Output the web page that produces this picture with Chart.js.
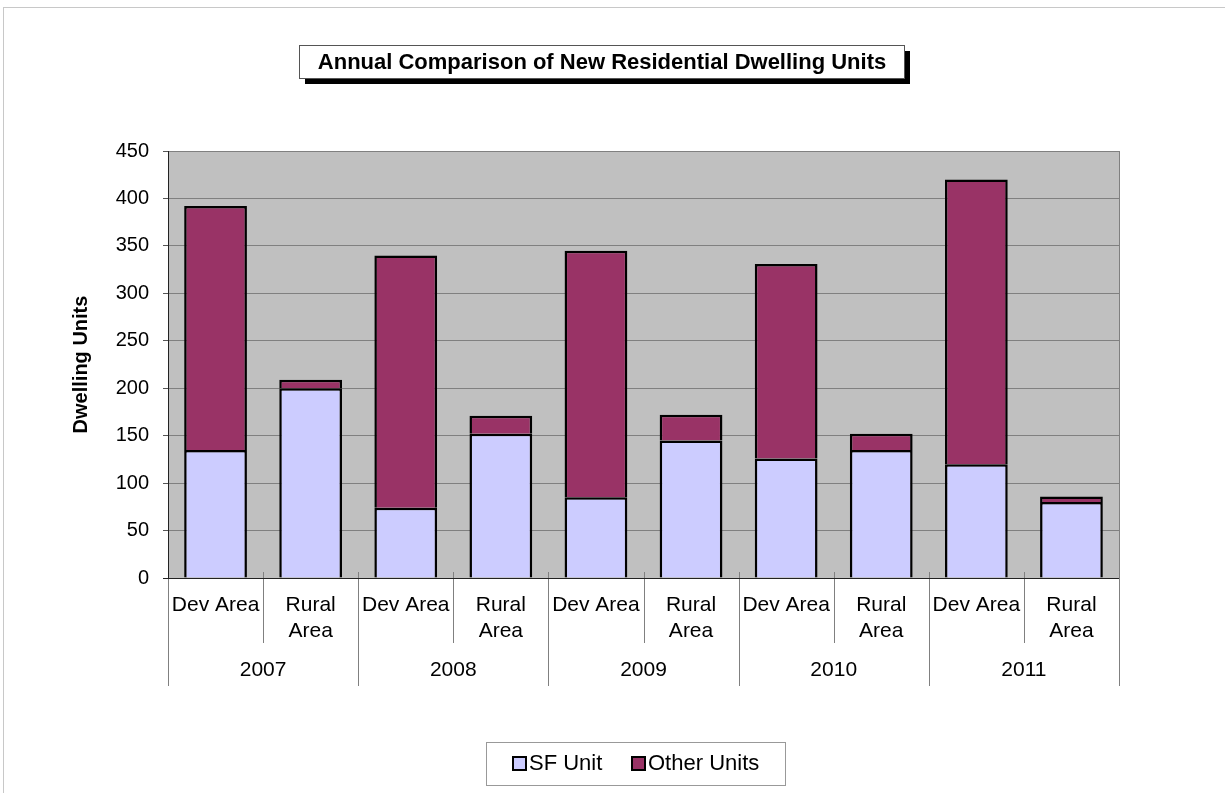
<!DOCTYPE html>
<html>
<head>
<meta charset="utf-8">
<script src="https://cdn.jsdelivr.net/npm/chart.js@4"></script>
<style>
  body { margin: 0; background: #fff; }
  canvas { display: block; }
</style>
</head>
<body>
<canvas id="units-chart" width="1225" height="793"></canvas>
<script>
// values
const categories = [['Dev Area'], ['Rural', 'Area'], ['Dev Area'], ['Rural', 'Area'], ['Dev Area'],
    ['Rural', 'Area'], ['Dev Area'], ['Rural', 'Area'], ['Dev Area'], ['Rural', 'Area']];
const years = ['2007', '2008', '2009', '2010', '2011'];
const sfUnits = [135, 200, 74, 152, 85, 145, 126, 135, 120, 80];
const otherUnits = [257, 9, 266, 19, 260, 27, 205, 17, 300, 6];
const seriesNames = ['SF Unit', 'Other Units'];

const FONT = '"Liberation Sans", Arial, sans-serif';

const decorations = {
    id: 'decorations',
    beforeDraw: function (chart) {
        const ctx = chart.ctx;
        const a = chart.chartArea;
        ctx.save();
        // outer frame
        ctx.strokeStyle = '#c8c8c8';
        ctx.lineWidth = 1;
        ctx.strokeRect(3.5, 7.5, 1240, 800);
        // plot background
        ctx.fillStyle = '#c0c0c0';
        ctx.fillRect(a.left, a.top, a.right - a.left, a.bottom - a.top);
        ctx.strokeStyle = '#808080';
        ctx.beginPath();
        ctx.moveTo(a.right + 0.5, a.top);
        ctx.lineTo(a.right + 0.5, a.bottom);
        ctx.stroke();
        ctx.restore();
    },
    afterDraw: function (chart) {
        const ctx = chart.ctx;
        const a = chart.chartArea;
        const x = chart.scales.x;
        ctx.save();

        // title box with shadow
        ctx.fillStyle = '#000';
        ctx.fillRect(305, 51, 605, 33);
        ctx.fillStyle = '#fff';
        ctx.fillRect(299.5, 45.5, 605, 33);
        ctx.strokeStyle = '#555';
        ctx.lineWidth = 1;
        ctx.strokeRect(299.5, 45.5, 605, 33);
        ctx.fillStyle = '#000';
        ctx.font = 'bold 22px ' + FONT;
        ctx.textAlign = 'center';
        ctx.textBaseline = 'middle';
        ctx.fillText('Annual Comparison of New Residential Dwelling Units', 602, 63);

        // y axis title
        ctx.save();
        ctx.translate(81, (a.top + a.bottom) / 2);
        ctx.rotate(-Math.PI / 2);
        ctx.font = 'bold 20px ' + FONT;
        ctx.fillText('Dwelling Units', 0, 0);
        ctx.restore();

        // category / year separators
        const step = (x.right - x.left) / categories.length;
        ctx.strokeStyle = '#808080';
        ctx.lineWidth = 1;
        for (let i = 0; i <= categories.length; i++) {
            const px = Math.round(x.left + i * step) + 0.5;
            const yearEdge = i % 2 === 0;
            ctx.beginPath();
            ctx.moveTo(px, a.bottom - (i === 0 ? 0 : 6));
            ctx.lineTo(px, yearEdge ? a.bottom + 108 : a.bottom + 65);
            ctx.stroke();
        }
        // x axis line
        ctx.strokeStyle = '#222';
        ctx.beginPath();
        ctx.moveTo(a.left - 5, a.bottom + 0.5);
        ctx.lineTo(a.right, a.bottom + 0.5);
        ctx.stroke();

        // year labels
        ctx.fillStyle = '#000';
        ctx.font = '21px ' + FONT;
        years.forEach(function (year, i) {
            ctx.fillText(year, x.left + (2 * i + 1) * step, a.bottom + 92);
        });

        // legend
        ctx.strokeStyle = '#999';
        ctx.strokeRect(486.5, 742.5, 299, 43);
        ctx.textAlign = 'left';
        ctx.font = '22px ' + FONT;
        const items = [{ x: 513, tx: 529 }, { x: 632, tx: 648 }];
        chart.data.datasets.forEach(function (ds, i) {
            ctx.fillStyle = ds.backgroundColor;
            ctx.fillRect(items[i].x, 757, 13, 13);
            ctx.strokeStyle = '#000';
            ctx.lineWidth = 2;
            ctx.strokeRect(items[i].x, 757, 13, 13);
            ctx.fillStyle = '#000';
            ctx.fillText(ds.label, items[i].tx, 764);
        });
        ctx.restore();
    }
};

new Chart(document.getElementById('units-chart'), {
    type: 'bar',
    data: {
        labels: categories,
        datasets: [
            {
                label: seriesNames[0],
                data: sfUnits,
                backgroundColor: '#ccccff',
                borderColor: '#000',
                borderWidth: 2.5
            },
            {
                label: seriesNames[1],
                data: otherUnits,
                backgroundColor: '#993366',
                borderColor: '#000',
                borderWidth: 2.5
            }
        ]
    },
    options: {
        responsive: false,
        animation: false,
        devicePixelRatio: 1,
        layout: { padding: { left: 0, right: 106, top: 151, bottom: 0 } },
        datasets: { bar: { barPercentage: 0.66, categoryPercentage: 1 } },
        plugins: {
            legend: { display: false },
            title: { display: false },
            tooltip: { enabled: false }
        },
        scales: {
            x: {
                stacked: true,
                grid: { display: false },
                border: { display: false },
                ticks: {
                    color: '#000',
                    padding: 6,
                    maxRotation: 0,
                    autoSkip: false,
                    font: { family: FONT, size: 21, lineHeight: 1.24 }
                },
                afterFit: function (scale) { scale.height = 215; }
            },
            y: {
                stacked: true,
                min: 0,
                max: 450,
                grid: { color: '#808080', tickLength: 5, tickColor: '#555' },
                border: { color: '#222' },
                ticks: {
                    stepSize: 50,
                    color: '#000',
                    padding: 14,
                    font: { family: FONT, size: 20 }
                },
                afterFit: function (scale) { scale.width = 168; }
            }
        }
    },
    plugins: [decorations]
});
</script>
</body>
</html>
